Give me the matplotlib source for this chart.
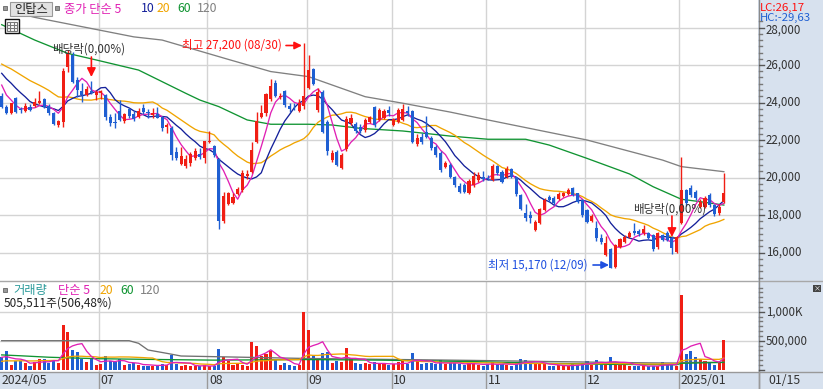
import numpy as np
import pandas as pd
import matplotlib
matplotlib.use("Agg")
import matplotlib.pyplot as plt
from matplotlib.patches import Rectangle

plt.rcParams['font.family'] = ['Noto Sans CJK KR', 'DejaVu Sans']

# ---------------- data ----------------
title = "인탑스"
month_labels = ["2024/05", "07", "08", "09", "10", "11", "12", "2025/01"]
month_start_idx = [0, 21, 44, 65, 83, 103, 124, 144]
last_date_label = "01/15"

opens = [24350, 23780, 23460, 24220, 23650, 23550, 23780, 23830, 24000, 24170,
         23810, 23460, 22800, 22940, 25880, 26530, 25200, 24630, 24400, 24630,
         24400, 24490, 24400, 23210, 22980, 23560, 23030, 23650, 23390, 23250,
         23690, 23450, 23330, 23370, 23210, 22680, 22620, 21380, 20720, 20610,
         20760, 21020, 21250, 21020, 21890, 21680, 20970, 17700, 18600, 18660,
         19120, 19330, 20080, 20310, 21910, 23210, 23420, 24170, 25060, 24280,
         24610, 23810, 23840, 23560, 23810, 24760, 25770, 23600, 24580, 22980,
         20930, 21380, 20490, 21500, 22890, 22840, 22710, 22530, 22980, 23740,
         23070, 23160, 23600, 22800, 22980, 23070, 23550, 23560, 21790, 22180,
         22440, 22090, 21640, 21290, 20580, 20670, 20040, 19550, 19600, 19190,
         19600, 19870, 20010, 20000, 19870, 20610, 20310, 20010, 20450, 20010,
         19070, 18090, 18000, 17200, 17560, 18270, 18950, 18900, 18850, 19000,
         19100, 19420, 19160, 18800, 18270, 17700, 17290, 16790, 15870, 16170,
         15240, 16310, 16580, 16840, 17160, 17150, 17020, 17020, 16930, 16280,
         16930, 17060, 16760, 16040, 17590, 19330, 19420, 19240, 18440, 18440,
         19050, 18530, 18090, 18710]
highs = [24510, 23850, 24000, 24300, 23750, 23990, 23900, 24220, 24610, 24250,
         23900, 23500, 23050, 25820, 26800, 26710, 25340, 25020, 24900, 25160,
         24650, 24650, 24450, 23390, 23440, 24130, 23420, 23700, 23550, 23700,
         23920, 23680, 23700, 23740, 23300, 22920, 22750, 21640, 21640, 21200,
         21350, 21550, 21550, 21960, 22500, 21750, 21060, 19250, 19250, 19200,
         19500, 20400, 20400, 21910, 23510, 23870, 24500, 25250, 25200, 24500,
         24650, 23970, 23970, 24200, 27200, 26530, 25850, 24770, 24650, 23050,
         21450, 21450, 21300, 23280, 23390, 22950, 22850, 23150, 23300, 23800,
         23700, 23650, 23800, 23200, 23700, 23900, 23800, 23600, 22300, 22350,
         23300, 22200, 21750, 21400, 20900, 20800, 20100, 19700, 19700, 19900,
         20310, 20310, 20340, 20150, 20700, 20650, 20400, 20600, 20500, 20050,
         19100, 18600, 18200, 17750, 18400, 18900, 19050, 19000, 19250, 19250,
         19450, 19500, 19200, 18850, 18300, 18050, 17700, 17000, 16900, 16250,
         16450, 16800, 16950, 17150, 17550, 17250, 17450, 17100, 17000, 17100,
         17000, 17150, 16900, 16900, 21080, 19400, 19600, 19350, 18850, 19000,
         19150, 18600, 18600, 20220]
lows = [23700, 23400, 23400, 23450, 23450, 23500, 23550, 23780, 23900, 23700,
        23350, 22800, 22680, 22680, 25640, 25050, 24310, 24040, 24350, 24450,
        24150, 24200, 23070, 22750, 22660, 23030, 22900, 23150, 23000, 23150,
        23400, 23200, 23200, 23150, 22500, 22400, 20950, 20950, 20650, 20500,
        20600, 20950, 21000, 20800, 21850, 21100, 17240, 17600, 18550, 18600,
        19050, 19250, 19900, 20250, 21850, 23150, 23300, 24100, 24300, 24180,
        23760, 23500, 23600, 23500, 23650, 24700, 24950, 23500, 22350, 21200,
        20850, 20600, 20450, 21400, 22800, 22350, 22400, 22450, 22900, 22700,
        23000, 23100, 23300, 22750, 22900, 23000, 23300, 21850, 21700, 21800,
        22100, 21450, 21100, 20300, 20500, 19950, 19500, 19150, 19150, 19100,
        19500, 19780, 19830, 19850, 19800, 20150, 19700, 19950, 19950, 19000,
        18250, 17700, 17600, 17150, 17500, 18200, 18700, 18550, 18800, 18950,
        19050, 19000, 18650, 17900, 17550, 17650, 16600, 16450, 15800, 15170,
        15200, 16250, 16500, 16750, 16950, 16900, 16950, 16700, 16100, 16200,
        16600, 16600, 15920, 15950, 17500, 18500, 18950, 18800, 18350, 18350,
        18450, 17950, 18000, 18650]
closes = [23780, 23460, 23960, 23510, 23600, 23810, 23620, 24040, 24080, 23780,
          23420, 22850, 23010, 25700, 26570, 25110, 24670, 24400, 24700, 24490,
          24580, 24600, 23210, 22890, 22890, 23070, 23370, 23300, 23120, 23560,
          23480, 23420, 23420, 23190, 22620, 22800, 21200, 21020, 21150, 20980,
          21240, 21430, 21080, 21960, 21960, 21200, 17700, 18990, 19170, 18950,
          19400, 20220, 20190, 21470, 23010, 23420, 24450, 24880, 24360, 24370,
          23870, 23640, 23790, 23960, 24350, 25730, 24990, 24580, 22440, 21430,
          21290, 20670, 21200, 23100, 23160, 22480, 22480, 23070, 23210, 22800,
          23600, 23550, 23420, 23100, 23600, 23640, 23420, 21910, 22090, 21910,
          22180, 21560, 21200, 20400, 20790, 20050, 19600, 19240, 19240, 19830,
          20080, 20130, 19900, 19930, 20610, 20220, 19780, 20450, 20010, 19120,
          18320, 17820, 17850, 17640, 18300, 18800, 18800, 18650, 19100, 19150,
          19330, 19070, 18710, 18000, 17640, 17950, 16760, 16580, 16520, 15200,
          16400, 16700, 16840, 17060, 17020, 16980, 17230, 16760, 16170, 17020,
          16670, 16670, 16220, 16840, 19330, 18620, 19070, 18890, 18700, 18890,
          18530, 18040, 18440, 19200]
# closes before the first visible day (for the moving averages)
prior_closes = [26200, 26400, 26600, 26800, 26900, 26700, 26500, 26600, 26430, 26300,
                26400, 26300, 26200, 26000, 26020, 26110, 25300, 24900, 24560]

# 60 / 120 day price averages (day index, value)
ma60_idx = [0, 7, 14, 20, 29, 39, 42, 46, 52, 57, 65, 70, 76, 85, 95, 103, 111,
            116, 124, 133, 138, 144, 148, 153]
ma60_val = [28150, 27330, 26620, 26270, 25730, 24490, 24130, 23780, 23070, 22840,
            22840, 22800, 22620, 22480, 22210, 22040, 22040, 21730, 21020, 20190,
            19510, 18840, 18710, 18530]
ma120_idx = [0, 7, 28, 34, 48, 57, 65, 77, 85, 95, 103, 124, 140, 144, 153]
ma120_val = [29000, 28540, 27500, 27330, 26300, 25650, 25380, 24310, 23960, 23490,
             23070, 22000, 20930, 20580, 20310]

volumes_k = [218, 316, 86, 144, 144, 115, 69, 126, 184, 184,
             115, 172, 115, 776, 644, 345, 299, 184, 126, 184,
             86, 100, 241, 144, 126, 184, 75, 98, 115, 86,
             69, 57, 69, 86, 98, 86, 259, 98, 69, 86,
             57, 57, 57, 86, 57, 69, 362, 213, 144, 86,
             98, 86, 57, 471, 414, 241, 270, 316, 172, 86,
             115, 86, 69, 86, 1000, 690, 240, 200, 280, 300,
             120, 150, 130, 380, 200, 120, 90, 110, 100, 130,
             110, 90, 80, 90, 130, 150, 100, 280, 150, 100,
             120, 110, 100, 160, 90, 120, 110, 100, 80, 110,
             120, 80, 70, 90, 130, 90, 100, 80, 70, 120,
             180, 170, 100, 120, 110, 90, 70, 60, 80, 60,
             70, 90, 80, 120, 150, 80, 160, 120, 90, 213,
             100, 115, 115, 60, 69, 60, 60, 60, 69, 60,
             132, 86, 86, 69, 1290, 270, 316, 218, 184, 144,
             126, 86, 115, 506]
prior_volumes_k = [120, 125, 115, 130, 118, 122, 120, 115, 125, 120,
                   118, 122, 120, 125, 115, 250, 200, 230, 170]
vma60_idx = [0, 4, 10, 14, 20, 34, 45, 64, 80, 100, 115, 124, 127, 143, 144, 153]
vma60_val = [255, 240, 215, 205, 190, 175, 165, 175, 165, 140, 110, 100, 93, 86, 110, 126]
vma120_idx = [0, 27, 29, 31, 35, 38, 63, 100, 127, 137, 143, 144, 153]
vma120_val = [500, 500, 455, 340, 282, 236, 196, 160, 128, 118, 115, 125, 128]

# ---------------- style ----------------
W, H = 823, 389
RED = '#f01e14'
BLUE = '#1f5fd2'
C5, C10, C20, C60, C120 = '#e020b4', '#14209a', '#f0a400', '#109432', '#808080'
PANEL = '#d7e1ee'
GRID = '#d4d4d4'

X0, DX = 1.7, 4.72          # pixel position of day 0 and pixel per day
PLOT_R = 758


def fx(px):
    return px / W


def fy(py):
    return 1 - py / H


def px2i(px):
    return (px - X0) / DX


fig = plt.figure(figsize=(W / 100, H / 100), dpi=100)
fig.patch.set_facecolor('white')

fig.patches.append(Rectangle((fx(PLOT_R), 0), 1 - fx(PLOT_R), 1, transform=fig.transFigure,
                             facecolor=PANEL, edgecolor='none', zorder=0))
fig.patches.append(Rectangle((0, 0), 1, fy(371.5), transform=fig.transFigure,
                             facecolor=PANEL, edgecolor='none', zorder=0))

# ---------------- price panel ----------------
ax = fig.add_axes([0, fy(280), fx(PLOT_R), 280 / H])
ax.set_facecolor('white')
for s in ax.spines.values():
    s.set_visible(False)
ax.set_xticks([])
ax.set_yticks([])


def py2price(py):
    return 26000 - (py - 65) * 1000 / 18.75


ax.set_ylim(py2price(280), py2price(0))
ax.set_xlim(px2i(0), px2i(PLOT_R))

for v in range(16000, 28001, 2000):
    ax.axhline(v, color=GRID, lw=1, zorder=1)
for m in month_start_idx[1:]:
    ax.axvline(m - 0.4, color=GRID, lw=1, zorder=1)

o = np.array(opens, float)
h = np.array(highs, float)
l = np.array(lows, float)
c = np.array(closes, float)
n = len(c)
xi = np.arange(n)

allc = pd.Series(prior_closes + closes, dtype=float)
ma5 = allc.rolling(5).mean().values[len(prior_closes):]
ma10 = allc.rolling(10).mean().values[len(prior_closes):]
ma20 = allc.rolling(20).mean().values[len(prior_closes):]

clip = Rectangle((0, 0), 1, (280 - 17) / 280, transform=ax.transAxes, visible=False)
ax.add_patch(clip)

lw = 0.95
for xs, ys, col in [(ma120_idx, ma120_val, C120), (ma60_idx, ma60_val, C60),
                    (xi, ma20, C20), (xi, ma10, C10), (xi, ma5, C5)]:
    ln, = ax.plot(xs, ys, color=col, lw=lw, zorder=3)
    ln.set_clip_path(clip)

up = c >= o
cols = np.where(up, RED, BLUE)
ax.vlines(xi, l, h, colors=cols, lw=1, zorder=4)
bot = np.minimum(o, c)
hgt = np.maximum(np.abs(c - o), 50)
ax.bar(xi, hgt, bottom=bot, width=0.66, color=cols, linewidth=0, zorder=5)

txtc = '#333333'
arrow_kw = dict(lw=1.2, shrinkA=0, shrinkB=0)
ax.annotate('', xy=(19, py2price(77)), xytext=(19, py2price(57)),
            arrowprops=dict(arrowstyle='-|>', color='#ff1010', mutation_scale=13, **arrow_kw), zorder=6)
ax.annotate('', xy=(142, py2price(237)), xytext=(142, py2price(216)),
            arrowprops=dict(arrowstyle='-|>', color='#ff1010', mutation_scale=13, **arrow_kw), zorder=6)
ax.annotate('', xy=(px2i(302), py2price(45.5)), xytext=(px2i(286), py2price(45.5)),
            arrowprops=dict(arrowstyle='-|>', color='#ff1010', mutation_scale=11, **arrow_kw), zorder=6)
ax.annotate('', xy=(px2i(609), py2price(265)), xytext=(px2i(593), py2price(265)),
            arrowprops=dict(arrowstyle='-|>', color='#1f50e0', mutation_scale=11, **arrow_kw), zorder=6)

fs = 8.3
fig.text(fx(52), fy(49.5), '배당락(0,00%)', color=txtc, fontsize=fs, va='center', ha='left', zorder=10)
fig.text(fx(633), fy(209), '배당락(0,00%)', color=txtc, fontsize=fs, va='center', ha='left', zorder=10)
fig.text(fx(282), fy(45.5), '최고 27,200 (08/30)', color='#ff1010', fontsize=fs, va='center', ha='right', zorder=10)
fig.text(fx(588), fy(265), '최저 15,170 (12/09)', color='#1f50e0', fontsize=fs, va='center', ha='right', zorder=10)

# header legend
fig.patches.append(Rectangle((fx(3), fy(10)), 4 / W, 4.5 / H, transform=fig.transFigure,
                             facecolor='#999999', edgecolor='#666666', lw=0.6, zorder=9))
fig.patches.append(Rectangle((fx(10), fy(16)), 42 / W, 14.5 / H, transform=fig.transFigure,
                             facecolor='#e2e2e2', edgecolor='#9a9a9a', lw=0.8, zorder=9))
fig.text(fx(31), fy(9), title, color='#222222', fontsize=8.8, va='center', ha='center', zorder=10)
fig.patches.append(Rectangle((fx(55), fy(10)), 4 / W, 4.5 / H, transform=fig.transFigure,
                             facecolor='#999999', edgecolor='#666666', lw=0.6, zorder=9))
for xx, s, col in [(64, '종가 단순 5', C5), (141, '10', C10), (157, '20', C20),
                   (177, '60', C60), (197, '120', C120)]:
    fig.text(fx(xx), fy(9), s, color=col, fontsize=8.8, va='center', ha='left', zorder=10)

# small table icon
fig.patches.append(Rectangle((fx(5), fy(33)), 14 / W, 14 / H, transform=fig.transFigure,
                             facecolor='white', edgecolor='#111111', lw=1.0, zorder=9))
for k in (1, 2):
    fig.lines.append(plt.Line2D([fx(7), fx(17)], [fy(21 + 3.6 * k), fy(21 + 3.6 * k)],
                                transform=fig.transFigure, color='#777777', lw=0.8, zorder=10))
    fig.lines.append(plt.Line2D([fx(7 + 3.4 * k), fx(7 + 3.4 * k)], [fy(22), fy(31)],
                                transform=fig.transFigure, color='#777777', lw=0.8, zorder=10))
fig.patches.append(Rectangle((fx(7), fy(31)), 10 / W, 9 / H, transform=fig.transFigure,
                             facecolor='none', edgecolor='#777777', lw=0.8, zorder=10))

# ---------------- volume panel ----------------
axv = fig.add_axes([0, fy(371.5), fx(PLOT_R), (371.5 - 282) / H])
axv.set_facecolor('white')
for s in axv.spines.values():
    s.set_visible(False)
axv.set_xticks([])
axv.set_yticks([])
KPP = 500 / 29.0


def vpy(py):
    return (369.7 - py) * KPP


axv.set_ylim(vpy(371.5), vpy(282))
axv.set_xlim(px2i(0), px2i(PLOT_R))
for v in (500, 1000):
    axv.axhline(v, color=GRID, lw=1, zorder=1)
for m in month_start_idx[1:]:
    axv.axvline(m - 0.4, color=GRID, lw=1, zorder=1)

vol = np.array(volumes_k, float)
axv.bar(xi, vol, width=0.66, color=cols, linewidth=0, zorder=3)
allv = pd.Series(prior_volumes_k + volumes_k, dtype=float)
vma5 = allv.rolling(5).mean().values[len(prior_volumes_k):]
vma20 = allv.rolling(20).mean().values[len(prior_volumes_k):]
axv.plot(vma120_idx, vma120_val, color='#707070', lw=lw, zorder=4)
axv.plot(vma60_idx, vma60_val, color=C60, lw=lw, zorder=4)
axv.plot(xi, vma20, color=C20, lw=lw, zorder=4)
axv.plot(xi, vma5, color=C5, lw=lw, zorder=4)

fig.patches.append(Rectangle((fx(3), fy(292)), 4 / W, 4.5 / H, transform=fig.transFigure,
                             facecolor='#999999', edgecolor='#666666', lw=0.6, zorder=9))
for xx, s, col in [(13, '거래량', '#2a9a9a'), (58, '단순 5', C5), (100, '20', C20),
                   (120, '60', C60), (140, '120', C120)]:
    fig.text(fx(xx), fy(290.5), s, color=col, fontsize=8.8, va='center', ha='left', zorder=10)
fig.text(fx(4), fy(303.5), '505,511주(506,48%)', color='#222222', fontsize=8.5,
         va='center', ha='left', zorder=10)


# ---------------- frame lines ----------------
def hline(py, x1, x2, col, w=1.0):
    fig.lines.append(plt.Line2D([fx(x1), fx(x2)], [fy(py), fy(py)], transform=fig.transFigure,
                                color=col, lw=w, zorder=8))


def vline(px, y1, y2, col, w=1.0):
    fig.lines.append(plt.Line2D([fx(px), fx(px)], [fy(y1), fy(y2)], transform=fig.transFigure,
                                color=col, lw=w, zorder=8))


hline(281, 0, W, '#a8a8a8')
hline(371.7, 0, W, '#999999')
vline(758.5, 0, 389, '#8a8a8a')

# date band
for m, lab in zip(month_start_idx, month_labels):
    pxm = X0 + DX * (m - 0.4) if m > 0 else 0
    if m > 0:
        vline(pxm, 371.7, 389, '#9a9a9a')
    fig.text(fx(pxm + 1.5), fy(380), lab, color='#333333', fontsize=8.8, va='center', ha='left', zorder=10)
vline(758.5, 371.7, 389, '#9a9a9a')
fig.text(fx(768), fy(380), last_date_label, color='#333333', fontsize=8.8, va='center', ha='left', zorder=10)

# right price scale
for v in np.arange(16000, 28001, 2000):
    py = 65 - (v - 26000) * 18.75 / 1000
    hline(py, 759, 764, '#555555')
    ly = py + 2.5 if v == 28000 else py
    fig.text(fx(766), fy(ly), f'{v:,}', color='#333333', fontsize=8.3, va='center', ha='left', zorder=10)
for k in range(0, 80):
    v = 14000 + k * 2000 / 6
    py = 65 - (v - 26000) * 18.75 / 1000
    if 20 <= py <= 279 and abs((v - 16000) % 2000) > 1:
        hline(py, 759, 762, '#777777')
for v, lab in [(1000, '1,000K'), (500, '500,000')]:
    py = 369.7 - v / KPP
    hline(py, 759, 764, '#555555')
    fig.text(fx(766), fy(py), lab, color='#333333', fontsize=8.3, va='center', ha='left', zorder=10)
for k in range(0, 19):
    v = k * 500 / 6
    py = 369.7 - v / KPP
    if py > 284 and k % 6:
        hline(py, 759, 762, '#777777')
hline(369.7, 759, 764, '#555555')

fig.text(fx(760), fy(7.5), 'LC:26,17', color='#ff1010', fontsize=8.2, va='center', ha='left', zorder=11)
fig.text(fx(760), fy(18), 'HC:-29,63', color='#1f5fd2', fontsize=8.2, va='center', ha='left', zorder=11)

fig.patches.append(Rectangle((fx(813), fy(292)), 8 / W, 7 / H, transform=fig.transFigure,
                             facecolor='#444444', edgecolor='none', zorder=9))
fig.text(fx(817), fy(288.5), '×', color='white', fontsize=5, va='center', ha='center', zorder=10)

fig.savefig('out.png', dpi=100)
